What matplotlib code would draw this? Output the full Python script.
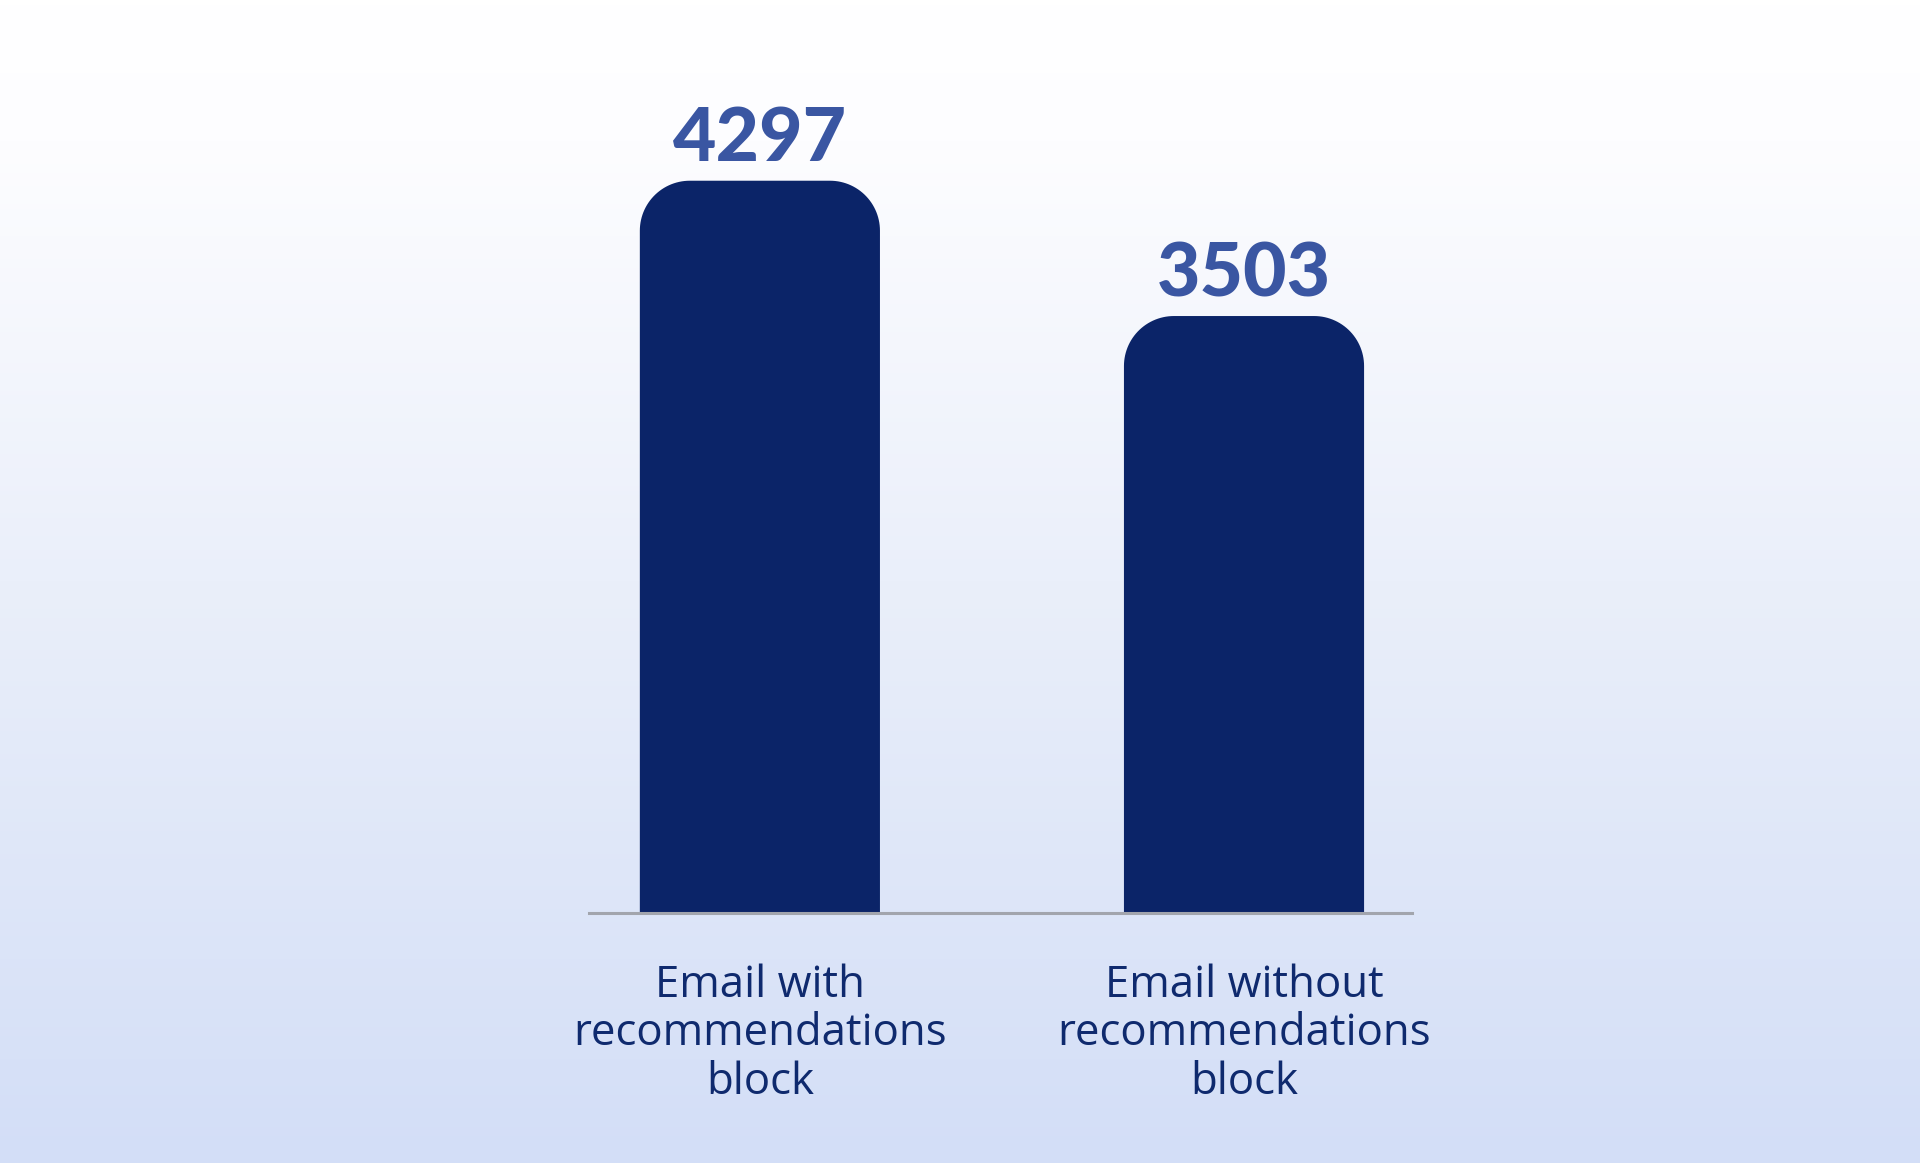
import numpy as np
import matplotlib
matplotlib.use("Agg")
import matplotlib.pyplot as plt
from matplotlib.patches import PathPatch
from matplotlib.path import Path
from matplotlib.colors import LinearSegmentedColormap

# Data
categories = ["Email with\nrecommendations\nblock", "Email without\nrecommendations\nblock"]
values = [4297, 3503]

BAR_COLOR = "#0b2468"
VALUE_COLOR = "#3a56a2"
LABEL_COLOR = "#0f2a6e"

W, H, DPI = 1920, 1163, 100
fig = plt.figure(figsize=(W / DPI, H / DPI), dpi=DPI)

# background gradient
bg = fig.add_axes([0, 0, 1, 1], zorder=0)
grad = np.linspace(0, 1, 256).reshape(-1, 1)
cmap = LinearSegmentedColormap.from_list(
    "bg", [(0, "#ffffff"), (0.12, "#fdfdff"), (0.5, "#eaeffa"), (1, "#d3def7")])
bg.imshow(grad, aspect="auto", cmap=cmap, extent=[0, 1, 0, 1], origin="upper")
bg.axis("off")

ax_left, ax_bottom, ax_w, ax_h = 589 / W, (H - 913) / H, 823 / W, 818 / H
ax = fig.add_axes([ax_left, ax_bottom, ax_w, ax_h], zorder=1)
ax.set_facecolor("none")

x = np.arange(len(values))
bar_w = 0.496
xlim = (-0.353, 1.347)
ylim = (0, 4800)
ax.set_xlim(*xlim)
ax.set_ylim(*ylim)

bars = ax.bar(x, values, width=bar_w, color=BAR_COLOR)

# swap plain bars for ones with rounded (circular in pixels) top corners
x_per_px = (xlim[1] - xlim[0]) / (ax_w * W)
y_per_px = (ylim[1] - ylim[0]) / (ax_h * H)
r_px = 50
rx, ry = r_px * x_per_px, r_px * y_per_px
t = np.linspace(0, np.pi / 2, 30)
for b in bars:
    b.set_visible(False)
    x0, x1 = b.get_x(), b.get_x() + b.get_width()
    top = b.get_height()
    left_arc = np.column_stack([x0 + rx - rx * np.cos(t), top - ry + ry * np.sin(t)])
    right_arc = np.column_stack([x1 - rx + rx * np.sin(t), top - ry + ry * np.cos(t)])
    verts = np.vstack([[x0, 0], left_arc, right_arc, [x1, 0], [x0, 0]])
    codes = [Path.MOVETO] + [Path.LINETO] * (len(verts) - 2) + [Path.CLOSEPOLY]
    ax.add_patch(PathPatch(Path(verts, codes), facecolor=BAR_COLOR, edgecolor="none"))

for xi, v in zip(x, values):
    ax.annotate(str(v), xy=(xi, v), xytext=(0, 14), textcoords="offset points",
                ha="center", va="baseline", fontsize=54, fontweight="black",
                family="Lato", color=VALUE_COLOR)

for xi, lab in zip(x, categories):
    ax.annotate(lab, xy=(xi, 0), xycoords=("data", "data"), xytext=(0, -87),
                textcoords="offset points", ha="center", va="center",
                multialignment="center", fontsize=31.5, family="Open Sans",
                color=LABEL_COLOR, linespacing=1.12)

for s in ["top", "right", "left"]:
    ax.spines[s].set_visible(False)
ax.spines["bottom"].set_color("#a2a5ad")
ax.spines["bottom"].set_linewidth(2.2)
ax.set_xticks([])
ax.set_yticks([])

fig.savefig("out.png", dpi=DPI)
